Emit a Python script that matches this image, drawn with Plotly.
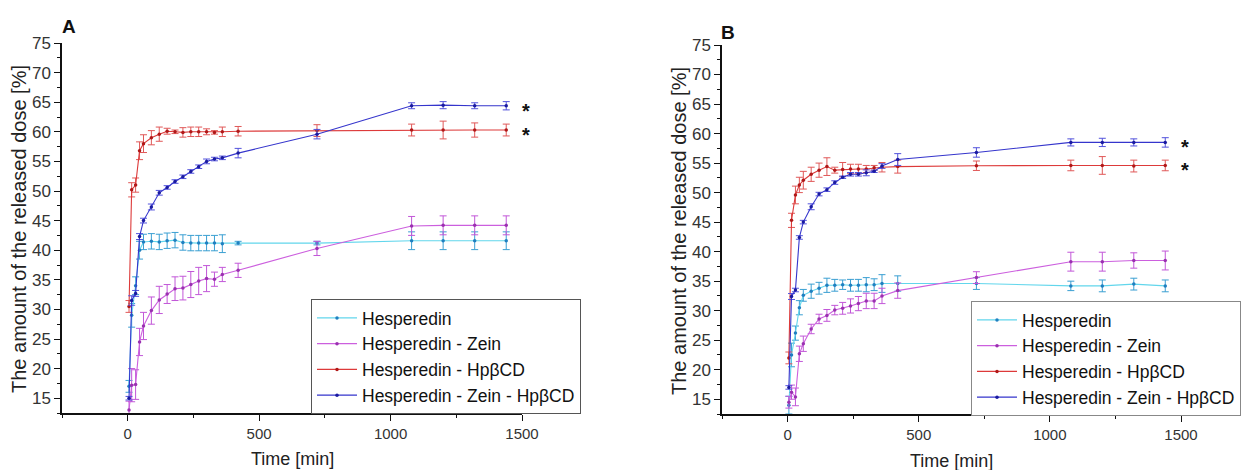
import plotly.graph_objects as go

# ---------------- data ----------------
time_min = [5, 15, 30, 45, 60, 90, 120, 150, 180, 210, 240, 270, 300, 330, 360, 420, 720, 1080, 1200, 1320, 1440]

series_names = ["Hesperedin", "Hesperedin - Zein", "Hesperedin - HpβCD", "Hesperedin - Zein - HpβCD"]

# Panel A
a_hes = [17.0, 29.0, 34.0, 40.0, 41.4, 41.5, 41.4, 41.6, 41.7, 41.3, 41.2, 41.2, 41.2, 41.2, 41.1, 41.2, 41.2, 41.6, 41.6, 41.6, 41.6]
a_hes_err = [1.0, 2.0, 1.5, 1.5, 1.3, 1.3, 1.3, 1.3, 1.3, 1.3, 1.3, 1.3, 1.3, 1.3, 1.5, 0.3, 0.3, 1.5, 1.5, 1.5, 1.5]
a_zein = [13.0, 17.2, 17.3, 24.5, 27.2, 29.8, 31.6, 32.6, 33.5, 33.6, 34.2, 34.8, 35.2, 35.1, 35.9, 36.6, 40.3, 44.1, 44.2, 44.2, 44.2]
a_zein_err = [1.5, 2.8, 2.5, 2.3, 2.3, 2.3, 2.3, 1.6, 2.0, 2.0, 2.2, 2.3, 2.2, 1.2, 1.2, 1.2, 1.2, 1.6, 1.6, 1.6, 1.6]
a_cd = [30.5, 50.2, 51.0, 56.8, 58.0, 59.0, 59.6, 60.1, 60.0, 59.9, 60.0, 60.0, 60.0, 59.9, 60.0, 60.1, 60.2, 60.3, 60.3, 60.3, 60.3]
a_cd_err = [1.0, 1.2, 1.2, 1.5, 1.5, 1.2, 1.2, 0.5, 0.3, 0.8, 0.8, 0.8, 0.5, 0.3, 0.8, 0.8, 1.0, 1.0, 1.5, 1.2, 1.0]
a_zcd = [15.0, 31.5, 32.7, 42.3, 45.0, 47.3, 49.7, 50.6, 51.6, 52.4, 53.3, 54.1, 55.0, 55.4, 55.6, 56.4, 59.6, 64.4, 64.5, 64.4, 64.4]
a_zcd_err = [0.3, 0.8, 0.5, 0.5, 0.4, 0.5, 0.4, 0.3, 0.3, 0.3, 0.3, 0.3, 0.4, 0.3, 0.3, 0.8, 0.8, 0.5, 0.6, 0.5, 0.7]

# Panel B
b_hes = [14.0, 22.5, 26.2, 30.5, 32.6, 33.3, 33.8, 34.3, 34.3, 34.4, 34.3, 34.3, 34.4, 34.4, 34.6, 34.6, 34.6, 34.2, 34.2, 34.5, 34.2]
b_hes_err = [1.5, 2.0, 1.2, 1.2, 1.0, 1.2, 1.0, 1.2, 1.0, 0.8, 1.0, 1.0, 1.2, 1.0, 1.5, 1.3, 1.0, 0.8, 1.0, 1.0, 1.0]
b_zein = [14.5, 16.2, 15.4, 22.7, 24.4, 26.9, 28.6, 29.2, 30.1, 30.4, 30.8, 31.2, 31.65, 31.65, 32.5, 33.4, 35.6, 38.3, 38.3, 38.5, 38.5]
b_zein_err = [1.0, 1.2, 1.5, 1.3, 1.3, 0.8, 0.8, 1.0, 0.8, 1.0, 1.2, 1.2, 1.3, 1.3, 1.3, 1.3, 1.0, 1.6, 1.6, 1.3, 1.6]
b_cd = [22.0, 45.3, 49.6, 51.3, 52.1, 53.1, 53.8, 54.4, 53.8, 53.9, 54.0, 54.0, 54.0, 54.2, 54.3, 54.4, 54.55, 54.6, 54.6, 54.5, 54.6]
b_cd_err = [1.0, 1.2, 1.5, 1.3, 1.5, 1.2, 1.2, 1.5, 0.5, 1.2, 0.8, 0.8, 0.6, 0.4, 0.8, 1.1, 0.8, 0.9, 1.5, 1.0, 0.9]
b_zcd = [17.0, 32.4, 33.5, 42.4, 45.0, 47.6, 49.75, 50.5, 51.7, 52.6, 53.1, 53.1, 53.35, 53.6, 54.5, 55.6, 56.8, 58.5, 58.5, 58.5, 58.5]
b_zcd_err = [0.3, 0.5, 0.3, 0.3, 0.3, 0.5, 0.3, 0.3, 0.3, 0.2, 0.3, 0.3, 0.5, 0.2, 0.4, 1.0, 0.8, 0.6, 0.7, 0.6, 0.8]

y_ticks = [15, 20, 25, 30, 35, 40, 45, 50, 55, 60, 65, 70, 75]
x_ticks = [0, 500, 1000, 1500]

# ---------------- style ----------------
line_colors = ["#62d6ec", "#cc5fde", "#dd3a3a", "#3535cc"]
err_colors = ["#3a9fd2", "#c257d8", "#e05858", "#5252dc"]
marker_colors = ["#1f7fc0", "#9a30b0", "#b01818", "#1a1aa0"]

FONT = "Liberation Sans, Arial, sans-serif"
OFF = 8                      # page body margin of the html page
W, H = 1252 - OFF, 470 - OFF

fig = go.Figure()

panels = [
    ("x", "y", "legend", [a_hes, a_zein, a_cd, a_zcd], [a_hes_err, a_zein_err, a_cd_err, a_zcd_err]),
    ("x2", "y2", "legend2", [b_hes, b_zein, b_cd, b_zcd], [b_hes_err, b_zein_err, b_cd_err, b_zcd_err]),
]

for xa, ya, lg, vals, errs in panels:
    for i, name in enumerate(series_names):
        fig.add_trace(go.Scatter(
            x=time_min, y=vals[i], name=name, mode="lines+markers",
            xaxis=xa, yaxis=ya, legend=lg,
            line=dict(color=line_colors[i], width=1.1),
            marker=dict(color=marker_colors[i], size=3.5),
            error_y=dict(type="data", array=errs[i], visible=True,
                         color=err_colors[i], thickness=1, width=3.5),
        ))

def px_x(p):
    return (p - OFF) / W

def px_y(p):
    return 1 - (p - OFF) / H

axis_common = dict(
    showline=True, linecolor="#111", linewidth=1.5, mirror=False,
    showgrid=False, zeroline=False, ticks="outside", ticklen=6, tickwidth=1.3,
    tickcolor="#111",
)

xa_common = dict(axis_common, range=[-250, 1500], tickvals=x_ticks,
                 tickfont=dict(family=FONT, size=15, color="#333"),
                 minor=dict(ticks="outside", ticklen=3, tickwidth=1.1, dtick=250, tick0=0, tickcolor="#111"))
ya_common = dict(axis_common, range=[12.5, 75], tickvals=y_ticks,
                 tickfont=dict(family=FONT, size=17, color="#333"),
                 minor=dict(ticks="outside", ticklen=3, tickwidth=1.1, dtick=2.5, tick0=0, tickcolor="#111"))

legend_font = dict(family=FONT, size=17.5, color="#111")
fig.update_layout(
    width=W, height=H,
    margin=dict(l=0, r=0, t=0, b=0, pad=0, autoexpand=False),
    paper_bgcolor="white", plot_bgcolor="white",
    font=dict(family=FONT, color="#222"),
    xaxis=dict(xa_common, domain=[px_x(62), px_x(522)], anchor="y"),
    yaxis=dict(ya_common, domain=[px_y(413), px_y(43)], anchor="x"),
    xaxis2=dict(xa_common, domain=[px_x(722), px_x(1181)], anchor="y2"),
    yaxis2=dict(ya_common, domain=[px_y(414), px_y(45)], anchor="x2"),
    legend=dict(x=px_x(311), y=px_y(299), xanchor="left", yanchor="top",
                bgcolor="white", bordercolor="#555", borderwidth=1, itemwidth=40,
                font=legend_font, tracegroupgap=0),
    legend2=dict(x=px_x(971), y=px_y(301), xanchor="left", yanchor="top",
                 bgcolor="white", bordercolor="#888", borderwidth=1, itemwidth=40,
                 font=legend_font, tracegroupgap=0),
    showlegend=True,
)

ann = []
def add_text(text, xc, yc, size, angle=0, color="#222"):
    ann.append(dict(text=text, x=px_x(xc), y=px_y(yc), xref="paper", yref="paper",
                    xanchor="center", yanchor="middle", textangle=angle, showarrow=False,
                    font=dict(family=FONT, size=size, color=color)))

# panel letters
add_text("<b>A</b>", 69, 27, 19, color="#111")
add_text("<b>B</b>", 728, 32, 19, color="#111")
# axis titles
add_text("The amount of the released dose [%]", 19, 229, 20, angle=-90)
add_text("The amount of the released dose [%]", 679, 231, 20, angle=-90)
add_text("Time [min]", 292, 459, 18)
add_text("Time [min]", 951, 461, 18)

# asterisks
for xr, yr, yv in [("x", "y", a_zcd[-1]), ("x", "y", a_cd[-1]), ("x2", "y2", b_zcd[-1]), ("x2", "y2", b_cd[-1])]:
    ann.append(dict(text="<b>*</b>", x=time_min[-1], y=yv, xref=xr, yref=yr, xshift=20, yshift=-5,
                    xanchor="center", yanchor="middle",
                    showarrow=False, font=dict(family=FONT, size=20, color="#111")))
fig.update_layout(annotations=ann)

fig.write_html("out.html")
